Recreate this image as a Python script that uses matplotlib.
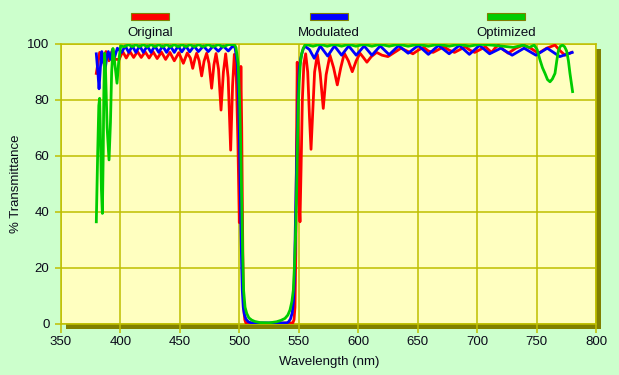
import matplotlib
matplotlib.use("Agg")
import matplotlib.pyplot as plt
from matplotlib.patches import Rectangle

plt.rcParams['font.family'] = ['Liberation Sans', 'DejaVu Sans']

# ---------------- data ----------------
series_names = ["Original", "Modulated", "Optimized"]
series_colors = ["#FF0000", "#0000FF", "#00CC00"]

original_wl = [379.7, 382.5, 385.3, 387.8, 390.3, 392.8, 395.6, 398.9, 401.9, 404.9, 408.0, 411.1,
               414.3, 417.5, 420.8, 424.1, 427.5, 430.9, 434.5, 438.0, 441.6, 445.3, 449.1, 452.9,
               456.2, 458.8, 460.8, 462.7, 464.1, 466.2, 468.3, 470.3, 472.5, 474.5, 476.7, 478.6,
               480.4, 482.5, 484.6, 486.6, 488.5, 490.6, 492.7, 494.3, 495.8, 497.5, 498.8, 500.0,
               500.7, 501.3, 502.0, 502.6, 503.2, 503.8, 504.6, 505.5, 515.0, 530.0, 545.0, 546.0,
               546.8, 547.5, 548.1, 548.7, 549.4, 550.2, 551.0, 551.9, 553.0, 554.3, 555.8, 557.5,
               559.0, 560.3, 561.6, 563.3, 565.6, 568.0, 570.6, 573.0, 576.2, 579.3, 582.4, 585.3,
               588.3, 591.7, 595.0, 598.3, 601.5, 604.3, 607.3, 611.0, 615.5, 620.0, 625.0, 630.5,
               636.0, 641.0, 646.0, 650.5, 655.0, 659.0, 663.0, 667.5, 672.0, 676.5, 681.0, 685.5,
               690.0, 694.0, 698.0, 702.5, 707.0, 709.5, 712.2, 715.0, 717.8, 722.0, 726.2, 732.5,
               738.8, 745.0, 751.5, 758.5, 765.5, 770.0, 773.9, 777.0, 779.5]
original_t = [89.5, 97.0, 93.5, 97.3, 94.0, 97.3, 94.5, 94.5, 97.3, 95.0, 97.3, 95.2,
              97.3, 95.2, 97.2, 95.0, 97.2, 94.8, 97.1, 94.5, 97.0, 94.0, 96.9, 93.1,
              96.8, 95.0, 91.3, 94.8, 96.7, 94.0, 88.6, 93.8, 96.7, 93.0, 84.2, 92.5,
              96.6, 91.0, 76.4, 90.0, 96.5, 88.0, 62.1, 85.0, 96.3, 88.0, 65.0, 36.2,
              70.0, 92.0, 70.0, 40.0, 15.0, 5.0, 1.5, 0.4, 0.2, 0.2, 0.4, 1.5,
              6.0, 25.0, 65.0, 93.5, 75.0, 45.0, 36.5, 55.0, 80.0, 93.0, 96.5, 90.0,
              74.0, 62.4, 74.0, 90.0, 96.3, 89.5, 77.0, 89.0, 96.0, 91.5, 85.4, 91.5,
              96.7, 94.0, 90.1, 94.0, 96.7, 95.2, 93.5, 95.5, 97.0, 96.0, 95.5, 97.0,
              98.5, 97.5, 96.5, 97.8, 98.8, 97.5, 97.0, 98.0, 99.0, 97.8, 97.0, 98.0,
              99.0, 97.8, 97.0, 98.0, 99.0, 98.0, 97.0, 98.5, 99.6, 98.0, 96.7, 98.5,
              99.6, 98.5, 96.7, 98.5, 99.6, 97.5, 96.0, 96.5, 97.0]

modulated_wl = [379.7, 381.0, 382.0, 383.2, 384.3, 385.7, 387.0, 388.4, 389.8, 391.5, 393.3, 395.2,
                397.4, 401.0, 404.0, 407.0, 410.0, 413.0, 416.2, 419.3, 422.5, 425.7, 429.0, 432.2,
                435.5, 438.8, 442.0, 445.3, 448.5, 451.6, 455.0, 458.3, 462.0, 465.6, 469.8, 473.9,
                478.0, 482.3, 486.5, 490.7, 495.0, 496.5, 498.3, 499.3, 500.0, 501.1, 502.0, 502.5,
                503.3, 504.2, 505.5, 507.5, 510.0, 540.0, 541.5, 543.0, 544.5, 545.5, 546.2, 546.8,
                547.8, 548.8, 549.6, 550.4, 551.5, 552.4, 553.8, 555.2, 559.0, 563.0, 568.0, 574.3,
                580.0, 586.0, 592.0, 598.3, 605.0, 611.5, 618.5, 626.0, 634.0, 642.0, 650.5, 659.0,
                667.5, 676.5, 685.0, 693.5, 702.0, 710.5, 720.0, 729.5, 739.5, 749.5, 759.0, 769.5,
                780.0]
modulated_t = [96.5, 90.0, 84.0, 92.0, 97.3, 94.0, 90.5, 95.0, 97.3, 94.5, 98.0, 95.5,
               98.5, 97.0, 99.3, 97.0, 99.3, 97.0, 99.3, 97.0, 99.3, 97.0, 99.3, 97.0,
               99.3, 97.0, 99.3, 97.0, 99.3, 97.2, 99.3, 97.2, 99.3, 97.3, 99.3, 97.3,
               99.3, 97.4, 99.3, 97.5, 99.5, 98.5, 93.0, 82.0, 69.0, 39.5, 20.0, 12.0,
               6.0, 3.5, 1.8, 0.8, 0.4, 0.4, 0.8, 1.8, 4.0, 8.0, 15.0, 28.0,
               50.0, 70.0, 84.0, 91.0, 94.5, 96.3, 98.3, 99.2, 98.0, 94.9, 99.3, 95.7,
               99.3, 96.0, 99.3, 96.0, 99.3, 96.0, 99.3, 96.2, 99.4, 96.7, 99.5, 96.3,
               99.5, 96.5, 99.5, 96.3, 99.5, 96.5, 98.5, 96.0, 98.5, 96.0, 98.5, 95.5,
               97.0]

optimized_wl = [379.7, 380.8, 381.8, 382.5, 383.3, 384.0, 384.8, 385.5, 386.0, 386.7, 387.5, 388.8,
                390.4, 391.6, 392.6, 393.7, 395.0, 397.1, 398.6, 400.2, 403.5, 406.8, 410.0, 413.0,
                416.0, 419.2, 422.5, 425.8, 429.0, 432.2, 435.5, 438.8, 442.0, 445.3, 448.5, 451.8,
                455.0, 458.5, 462.0, 465.8, 469.5, 473.8, 478.0, 482.3, 486.5, 490.8, 495.0, 496.3,
                497.2, 499.0, 500.2, 501.1, 502.2, 502.8, 503.6, 504.8, 506.2, 508.0, 510.4, 513.0,
                517.4, 525.0, 531.4, 535.0, 538.4, 540.8, 542.6, 544.2, 545.4, 546.5, 547.4, 548.2,
                548.8, 549.6, 550.4, 551.3, 552.4, 553.8, 555.2, 556.6, 562.0, 568.0, 574.0, 580.0,
                586.0, 592.0, 598.0, 605.0, 611.5, 618.5, 626.0, 634.0, 642.0, 650.5, 659.0, 667.5,
                676.5, 685.0, 693.5, 702.0, 712.0, 722.0, 730.4, 738.8, 743.9, 748.0, 750.5, 752.9,
                755.0, 757.1, 759.2, 761.3, 763.3, 765.5, 767.0, 768.3, 770.0, 771.9, 773.6, 775.3,
                776.8, 778.1, 780.3]
optimized_t = [36.5, 60.0, 78.0, 80.6, 65.0, 48.0, 39.5, 60.0, 82.0, 96.7, 90.0, 70.0,
               58.6, 72.0, 90.0, 98.4, 94.0, 86.0, 94.0, 99.3, 99.0, 99.8, 99.0, 99.8,
               99.0, 99.8, 99.0, 99.8, 99.0, 99.8, 99.0, 99.8, 99.0, 99.8, 99.0, 99.8,
               99.0, 99.8, 99.0, 99.8, 99.0, 99.8, 99.0, 99.8, 99.0, 99.8, 99.8, 99.5,
               98.6, 93.0, 80.0, 65.0, 39.5, 25.0, 12.0, 6.0, 3.8, 2.2, 1.4, 0.9,
               0.5, 0.4, 0.8, 1.3, 2.0, 3.2, 5.0, 8.0, 12.0, 22.0, 33.0, 48.0,
               63.0, 78.0, 87.0, 93.0, 96.5, 98.5, 99.6, 99.8, 99.2, 99.9, 99.2, 99.9,
               99.2, 99.9, 99.2, 99.9, 99.2, 99.9, 99.2, 99.9, 99.2, 99.9, 99.2, 99.9,
               99.2, 99.9, 99.2, 99.9, 99.6, 99.2, 98.8, 99.6, 98.8, 99.6, 98.0, 94.3,
               91.5, 89.5, 87.3, 86.5, 87.5, 89.5, 94.0, 97.5, 99.2, 99.6, 99.0, 97.5,
               94.0, 89.5, 83.0]

x_ticks = [350, 400, 450, 500, 550, 600, 650, 700, 750, 800]
y_ticks = [0, 20, 40, 60, 80, 100]

# ---------------- styling ----------------
W, H = 619, 375
BG = "#CCFFCC"
PLOT_BG = "#FFFFC0"
GRID = "#BFBF00"
SHADOW = "#808000"
TXT = "#0a0a1a"

fig = plt.figure(figsize=(W / 100, H / 100), dpi=100, facecolor=BG)

L, R, T, B = 61, 596, 44, 324  # axes in pixels (from top-left)
ax = fig.add_axes([L / W, (H - B) / H, (R - L) / W, (B - T) / H])
ax.set_facecolor(PLOT_BG)

# drop shadow behind the plot area
sh = 5
fig.add_artist(Rectangle(((L + sh) / W, (H - B - sh) / H), (R - L) / W, (B - T) / H,
                         transform=fig.transFigure, facecolor=SHADOW, edgecolor='none', zorder=-1))

series = [(original_wl, original_t), (modulated_wl, modulated_t), (optimized_wl, optimized_t)]
for (wl, tv), c in zip(series, series_colors):
    ax.plot(wl, tv, color=c, lw=2.0, solid_joinstyle='round', zorder=3)

ax.set_xlim(350, 800)
ax.set_ylim(0, 100)
ax.set_xticks(x_ticks)
ax.set_yticks(y_ticks)
ax.set_xticklabels([str(v) for v in x_ticks])
ax.set_yticklabels([str(v) for v in y_ticks])
ax.grid(True, color=GRID, lw=1.1, zorder=1)
ax.set_axisbelow(True)
for s in ax.spines.values():
    s.set_color(GRID)
    s.set_linewidth(1.1)
ax.tick_params(axis='x', direction='out', length=6.5, width=1.1, color=GRID,
               labelsize=9.5, labelcolor=TXT, pad=2)
ax.tick_params(axis='y', direction='out', length=4.3, width=1.1, color=GRID,
               labelsize=9.5, labelcolor=TXT, pad=4)

fig.text(329 / W, 1 - 362 / H, "Wavelength (nm)", ha='center', va='center', fontsize=9.5, color=TXT)
fig.text(16 / W, 1 - 184 / H, "% Transmittance", ha='center', va='center', rotation=90,
         fontsize=9.5, color=TXT)

# legend across the top
legend_centers = [150, 329, 506]
for name, c, cx in zip(series_names, series_colors, legend_centers):
    fig.add_artist(Rectangle(((cx - 19) / W, 1 - 20 / H), 38 / W, 7 / H, transform=fig.transFigure,
                             facecolor=c, edgecolor=SHADOW, lw=0.8))
    fig.text(cx / W, 1 - 33 / H, name, ha='center', va='center', fontsize=9.5, color=TXT)

fig.savefig("out.png", dpi=100, facecolor=BG)
